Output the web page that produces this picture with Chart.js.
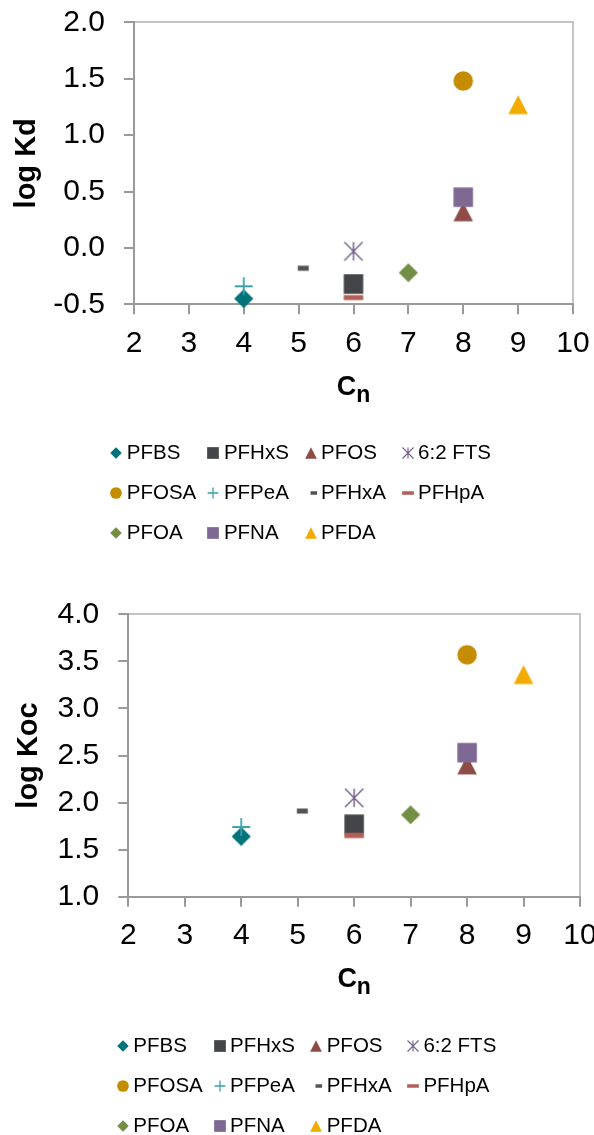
<!DOCTYPE html>
<html>
<head>
<meta charset="utf-8">
<title>log Kd and log Koc versus perfluorinated chain length</title>
<script src="https://cdn.jsdelivr.net/npm/chart.js"></script>
<style>
  html, body { margin: 0; padding: 0; background: #ffffff; }
  #page { position: relative; width: 594px; height: 1135px; overflow: hidden; background: #ffffff; }
  #page canvas { position: absolute; left: 0; }
</style>
</head>
<body>
<div id="page">
  <canvas id="kdChart" width="594" height="590" style="top:0px"></canvas>
  <canvas id="kocChart" width="594" height="545" style="top:590px"></canvas>
</div>
<script>
// Compounds, in series order
const compounds = ['PFBS', 'PFHxS', 'PFOS', '6:2 FTS', 'PFOSA', 'PFPeA', 'PFHxA', 'PFHpA', 'PFOA', 'PFNA', 'PFDA'];
// Number of perfluorinated carbons (Cn) for each compound
const chainLength = [4, 6, 8, 6, 8, 4, 5, 6, 7, 8, 9];
// Sorption coefficients
const logKd  = [-0.45, -0.32, 0.32, -0.03, 1.48, -0.34, -0.18, -0.44, -0.22, 0.45, 1.27];
const logKoc = [1.64, 1.77, 2.40, 2.05, 3.57, 1.74, 1.91, 1.65, 1.87, 2.53, 3.36];
// Axis ticks
const cnTicks  = [2, 3, 4, 5, 6, 7, 8, 9, 10];
const kdTicks  = [-0.5, 0.0, 0.5, 1.0, 1.5, 2.0];
const kocTicks = [1.0, 1.5, 2.0, 2.5, 3.0, 3.5, 4.0];

// Marker look for each compound
const markerShapes = ['diamond', 'square', 'triangle', 'asterisk', 'circle', 'plus', 'shortDash', 'longDash', 'diamond', 'square', 'triangle'];
const markerColors = ['#00727a', '#444549', '#8f4c47', '#73618a', '#c58c00', '#3aa0a8', '#515358', '#b35f58', '#738f45', '#7e6894', '#f2ab00'];

const FONT = '"Liberation Sans", Arial, Helvetica, sans-serif';
const AXIS_GREY = '#9a9a9a';
const FRAME_GREY = '#c4c4c4';

// Draws one marker into its own small canvas, used as a Chart.js pointStyle
function makeMarker(shape, color, s) {
  const off = shape === 'shortDash' ? s * 0.24 : 0;
  const w = Math.ceil(s + 2 * off) + 4;
  const h = Math.ceil(s) + 4;
  const c = document.createElement('canvas');
  c.width = w; c.height = h;
  const g = c.getContext('2d');
  const cx = w / 2, cy = h / 2;
  g.fillStyle = color; g.strokeStyle = color;
  g.beginPath();
  switch (shape) {
    case 'diamond': {
      const r = s * 0.49;
      g.moveTo(cx, cy - r); g.lineTo(cx + r, cy); g.lineTo(cx, cy + r); g.lineTo(cx - r, cy);
      g.closePath(); g.fill();
      break;
    }
    case 'square':
      g.fillRect(cx - s / 2, cy - s / 2, s, s);
      break;
    case 'triangle':
      g.moveTo(cx, cy - s * 0.49); g.lineTo(cx + s / 2, cy + s * 0.49); g.lineTo(cx - s / 2, cy + s * 0.49);
      g.closePath(); g.fill();
      break;
    case 'circle':
      g.arc(cx, cy, s / 2, 0, Math.PI * 2); g.fill();
      break;
    case 'plus': {
      const r = s * 0.46;
      g.lineWidth = Math.max(1.3, s * 0.09);
      g.moveTo(cx - r, cy); g.lineTo(cx + r, cy);
      g.moveTo(cx, cy - r); g.lineTo(cx, cy + r);
      g.stroke();
      break;
    }
    case 'asterisk': {
      const r = s * 0.47;
      g.lineWidth = Math.max(1.1, s * 0.075);
      g.moveTo(cx - r, cy - r); g.lineTo(cx + r, cy + r);
      g.moveTo(cx + r, cy - r); g.lineTo(cx - r, cy + r);
      g.moveTo(cx, cy - r); g.lineTo(cx, cy + r);
      g.stroke();
      break;
    }
    case 'shortDash': {
      const dw = s * 0.56, dh = Math.max(3.5, s * 0.26);
      g.fillRect(cx + off - dw / 2, cy - dh / 2, dw, dh);
      break;
    }
    case 'longDash': {
      const dh = Math.max(3.5, s * 0.26);
      g.fillRect(cx - s / 2, cy - dh / 2, s, dh);
      break;
    }
  }
  return c;
}

// Light frame on the top and right of the plot area
const plotFrame = {
  id: 'plotFrame',
  beforeDatasetsDraw(chart, args, o) {
    const { ctx, chartArea: a } = chart;
    ctx.save();
    ctx.strokeStyle = o.color;
    ctx.lineWidth = o.width;
    ctx.beginPath();
    ctx.moveTo(Math.round(a.left) + 1, Math.round(a.top));
    ctx.lineTo(Math.round(a.right), Math.round(a.top));
    ctx.lineTo(Math.round(a.right), Math.round(a.bottom) - 1);
    ctx.stroke();
    ctx.restore();
  }
};

// Legend laid out as a fixed grid below the plot
const gridLegend = {
  id: 'gridLegend',
  afterDraw(chart, args, o) {
    const { ctx, chartArea } = chart;
    ctx.save();
    ctx.font = o.fontSize + 'px ' + FONT;
    ctx.fillStyle = '#000000';
    ctx.textAlign = 'left';
    ctx.textBaseline = 'middle';
    chart.data.datasets.forEach((ds, i) => {
      const col = i % o.columns, row = Math.floor(i / o.columns);
      const tx = o.left + col * o.colWidth;
      const ty = chartArea.top + o.top + row * o.rowHeight;
      const m = ds.legendMarker;
      ctx.drawImage(m, Math.round(tx - o.markerGap - m.width / 2), Math.round(ty - m.height / 2));
      ctx.fillText(ds.label, tx, ty);
    });
    ctx.restore();
  }
};

// x-axis title with a subscript (C with subscript n)
const subscriptTitle = {
  id: 'subscriptTitle',
  afterDraw(chart, args, o) {
    const { ctx, chartArea } = chart;
    ctx.save();
    ctx.fillStyle = '#000000';
    ctx.textAlign = 'left';
    ctx.textBaseline = 'alphabetic';
    const mainFont = 'bold ' + o.size + 'px ' + FONT;
    const subFont = 'bold ' + o.subSize + 'px ' + FONT;
    ctx.font = mainFont;
    const wMain = ctx.measureText(o.main).width;
    ctx.font = subFont;
    const wSub = ctx.measureText(o.sub).width;
    const cx = (chartArea.left + chartArea.right) / 2;
    const x = cx - (wMain + wSub) / 2;
    const y = chartArea.bottom + o.offset;
    ctx.font = mainFont;
    ctx.fillText(o.main, x, y);
    ctx.font = subFont;
    ctx.fillText(o.sub, x + wMain, y + o.drop);
    ctx.restore();
  }
};

function buildChart(canvasId, values, yTicks, yTitle, L) {
  const datasets = compounds.map((name, i) => ({
    label: name,
    data: [{ x: chainLength[i], y: values[i] }],
    pointStyle: makeMarker(markerShapes[i], markerColors[i], 19.5),
    legendMarker: makeMarker(markerShapes[i], markerColors[i], 11.7),
    pointRadius: 10,
    pointHoverRadius: 10,
    order: compounds.length - i,
    clip: false
  }));

  const tickFont = { family: FONT, size: 30 };

  return new Chart(document.getElementById(canvasId), {
    type: 'scatter',
    data: { datasets },
    options: {
      responsive: false,
      animation: false,
      devicePixelRatio: 1,
      events: [],
      layout: { padding: { top: L.top, right: L.right, bottom: 0, left: 0 } },
      plugins: {
        legend: { display: false },
        tooltip: { enabled: false },
        plotFrame: { color: FRAME_GREY, width: 2 },
        gridLegend: {
          fontSize: 20.5, columns: 4,
          left: L.legendLeft, colWidth: L.legendCol,
          top: L.legendTop, rowHeight: 40, markerGap: 10.5
        },
        subscriptTitle: { main: 'C', sub: 'n', size: 27, subSize: 23, offset: 90.5, drop: 7 }
      },
      scales: {
        x: {
          type: 'linear',
          position: 'bottom',
          min: cnTicks[0],
          max: cnTicks[cnTicks.length - 1],
          afterBuildTicks: sc => { sc.ticks = cnTicks.map(v => ({ value: v })); },
          afterFit: sc => { sc.height = L.xHeight; sc.paddingLeft = 0; sc.paddingRight = 0; },
          ticks: {
            font: tickFont, color: '#000000', padding: 11,
            maxRotation: 0, minRotation: 0, autoSkip: false,
            callback: v => String(v)
          },
          grid: { drawOnChartArea: false, drawTicks: true, tickLength: 10, color: AXIS_GREY, lineWidth: 2 },
          border: { display: true, color: AXIS_GREY, width: 2 },
          title: { display: false }
        },
        y: {
          type: 'linear',
          position: 'left',
          min: yTicks[0],
          max: yTicks[yTicks.length - 1],
          afterBuildTicks: sc => { sc.ticks = yTicks.map(v => ({ value: v })); },
          afterFit: sc => { sc.width = L.yWidth; sc.paddingTop = 0; sc.paddingBottom = 0; },
          ticks: {
            font: tickFont, color: '#000000', padding: 19, autoSkip: false,
            callback: v => (Math.abs(v) < 1e-9 ? 0 : v).toFixed(1)
          },
          grid: { drawOnChartArea: false, drawTicks: true, tickLength: 10, color: AXIS_GREY, lineWidth: 2 },
          border: { display: true, color: AXIS_GREY, width: 2 },
          title: {
            display: true, text: yTitle, color: '#000000',
            font: { family: FONT, size: 29, weight: 'bold' },
            padding: { top: L.titlePad, bottom: 0 }
          }
        }
      }
    },
    plugins: [plotFrame, gridLegend, subscriptTitle]
  });
}

buildChart('kdChart', logKd, kdTicks, 'log Kd', {
  top: 22.3, right: 21, yWidth: 134, xHeight: 285.7, titlePad: 10,
  legendLeft: 126.8, legendCol: 97.1, legendTop: 431
});

buildChart('kocChart', logKoc, kocTicks, 'log Koc', {
  top: 24.3, right: 14, yWidth: 128.3, xHeight: 238.3, titlePad: 12,
  legendLeft: 133.3, legendCol: 96.7, legendTop: 431.7
});
</script>
</body>
</html>
